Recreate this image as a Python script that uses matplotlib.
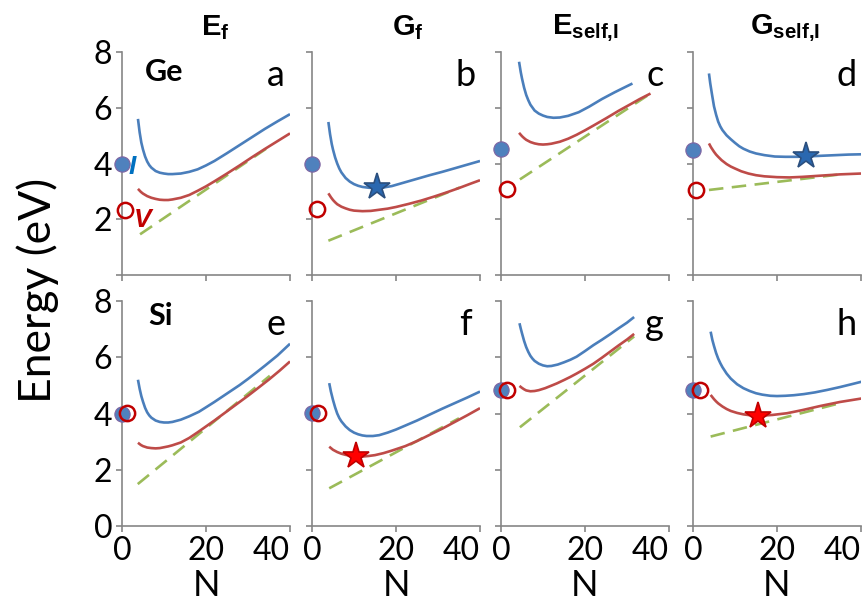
import matplotlib
matplotlib.use("Agg")
import matplotlib.pyplot as plt

plt.rcParams['font.family'] = ['Lato', 'DejaVu Sans']
plt.rcParams['mathtext.fontset'] = 'custom'
plt.rcParams['mathtext.rm'] = 'Liberation Sans'
plt.rcParams['mathtext.bf'] = 'Liberation Sans:bold'

# ---------------- data ----------------
col_titles = [r'$\mathbf{E}_{\mathbf{f}}$', r'$\mathbf{G}_{\mathbf{f}}$',
              r'$\mathbf{E}_{\mathbf{self{,}I}}$', r'$\mathbf{G}_{\mathbf{self{,}I}}$']
panel_letters = ['a', 'b', 'c', 'd', 'e', 'f', 'g', 'h']
row_materials = ['Ge', 'Si']
x_ticks = [0, 20, 40]
x_tick_labels = ['0', '20', '40']
y_ticks = [0, 2, 4, 6, 8]

# interstitial (blue) curves
blue_N = [
    [3.8, 4.2, 4.6, 5, 5.5, 6, 6.5, 7, 8, 9, 10, 11, 12, 14, 16, 18, 20, 22, 25, 28, 31, 34, 37, 40],
    [3.9, 4.3, 4.7, 5, 5.5, 6, 6.5, 7, 8, 9, 10, 11, 12, 13.5, 15, 17, 19, 22, 25, 28, 31, 34, 37, 40],
    [4.3, 4.7, 5, 5.5, 6, 6.5, 7, 8, 9, 10, 11, 12.5, 14, 16, 18.5, 21, 24, 27, 29, 31.3],
    [3.8, 4.1, 4.5, 5, 5.5, 6, 6.5, 7, 8, 9, 10, 11, 12, 13.5, 15, 17, 19.5, 22, 25, 28, 31, 34, 37, 40],
    [3.8, 4.2, 4.6, 5, 5.5, 6, 6.5, 7, 8, 9, 10, 11, 12, 14, 16, 18.3, 20, 22, 24, 26.2, 28, 30, 32, 34.2, 37, 40],
    [4.1, 4.5, 5, 5.5, 6, 6.5, 7, 8, 9, 10, 11, 12, 13, 14.5, 16, 18, 20, 22.2, 25, 28, 31, 34, 37, 40],
    [4.4, 4.7, 5, 5.5, 6, 6.5, 7, 7.5, 8, 9, 10, 11, 12, 13.5, 15, 16.5, 18, 20, 22, 24, 26, 28, 30, 31.7],
    [4.2, 4.6, 5, 5.5, 6, 6.5, 7, 8, 9, 10.5, 12, 13.5, 15, 16.5, 18.4, 20, 22, 24, 26.4, 29, 32, 35, 38, 40.4],
]
blue_E = [
    [5.60, 5.12, 4.75, 4.50, 4.25, 4.07, 3.94, 3.85, 3.73, 3.67, 3.64, 3.62, 3.62, 3.64, 3.70, 3.79, 3.93, 4.09, 4.37, 4.66, 4.95, 5.24, 5.51, 5.77],
    [5.49, 5.05, 4.70, 4.50, 4.22, 4.00, 3.82, 3.68, 3.48, 3.35, 3.26, 3.20, 3.16, 3.13, 3.12, 3.14, 3.19, 3.32, 3.45, 3.58, 3.70, 3.83, 3.96, 4.09],
    [7.65, 7.28, 7.05, 6.72, 6.46, 6.27, 6.11, 5.90, 5.79, 5.72, 5.67, 5.64, 5.65, 5.71, 5.84, 6.04, 6.31, 6.55, 6.70, 6.87],
    [7.23, 6.88, 6.50, 6.05, 5.75, 5.50, 5.33, 5.20, 5.01, 4.87, 4.74, 4.62, 4.53, 4.43, 4.36, 4.30, 4.25, 4.24, 4.24, 4.26, 4.28, 4.30, 4.32, 4.33],
    [5.20, 4.88, 4.62, 4.42, 4.20, 4.04, 3.93, 3.85, 3.75, 3.70, 3.68, 3.68, 3.70, 3.78, 3.90, 4.06, 4.22, 4.41, 4.61, 4.83, 5.01, 5.23, 5.46, 5.72, 6.06, 6.48],
    [5.08, 4.78, 4.48, 4.22, 4.00, 3.84, 3.72, 3.54, 3.41, 3.32, 3.26, 3.22, 3.20, 3.20, 3.23, 3.32, 3.43, 3.57, 3.75, 3.96, 4.17, 4.37, 4.57, 4.78],
    [7.21, 7.02, 6.85, 6.58, 6.36, 6.19, 6.05, 5.95, 5.87, 5.77, 5.71, 5.68, 5.69, 5.74, 5.82, 5.91, 6.02, 6.22, 6.43, 6.62, 6.82, 7.03, 7.23, 7.43],
    [6.91, 6.62, 6.40, 6.15, 5.95, 5.79, 5.65, 5.42, 5.24, 5.04, 4.90, 4.80, 4.72, 4.67, 4.63, 4.62, 4.63, 4.65, 4.69, 4.75, 4.84, 4.94, 5.05, 5.14],
]
# vacancy (red) curves
red_N = [
    [3.8, 4.5, 5, 6, 7, 8, 9, 10, 11, 12, 14, 16, 18, 20, 22, 25, 28, 31, 34, 37, 40],
    [3.9, 4.5, 5, 5.5, 6, 7, 8, 9, 10, 11, 12, 14, 16, 18, 20, 23, 26, 29, 32, 35, 38, 40],
    [4.3, 5, 5.5, 6, 7, 8, 9, 10, 11, 12, 14, 16, 18, 20, 22, 25, 28, 31, 33, 35.6],
    [3.8, 4.3, 5, 5.5, 6, 6.8, 8, 9, 10, 11.5, 13.2, 15, 17, 20, 23, 26, 30, 35, 40],
    [3.8, 4.5, 5, 6, 7, 8, 9, 10, 11, 12, 14, 16, 18, 20, 22, 24, 26, 28, 30, 32, 35, 37.5, 40],
    [4.1, 5, 6, 7, 8, 9, 10, 11, 12, 13.5, 15, 17, 19, 22.2, 25, 28, 31, 34, 37, 40],
    [4.4, 5, 5.5, 6, 7, 8, 9, 10.5, 12, 13.3, 15, 16.5, 18, 20, 22, 24, 26, 28, 30, 31.7],
    [4.2, 5, 5.5, 6, 7, 8, 9, 10.5, 12, 13.5, 15.4, 17, 19, 22.4, 26, 30.4, 35, 40.4],
]
red_E = [
    [3.09, 2.98, 2.92, 2.83, 2.77, 2.73, 2.70, 2.69, 2.69, 2.71, 2.77, 2.87, 3.02, 3.18, 3.36, 3.64, 3.93, 4.23, 4.52, 4.80, 5.08],
    [2.93, 2.79, 2.69, 2.61, 2.54, 2.45, 2.39, 2.34, 2.31, 2.30, 2.29, 2.30, 2.34, 2.38, 2.44, 2.55, 2.67, 2.81, 2.96, 3.12, 3.29, 3.40],
    [5.10, 4.98, 4.91, 4.85, 4.77, 4.72, 4.69, 4.68, 4.69, 4.71, 4.78, 4.89, 5.03, 5.19, 5.36, 5.62, 5.89, 6.14, 6.31, 6.51],
    [4.72, 4.58, 4.42, 4.32, 4.24, 4.12, 3.98, 3.89, 3.82, 3.72, 3.64, 3.58, 3.54, 3.51, 3.50, 3.52, 3.56, 3.61, 3.64],
    [2.96, 2.88, 2.84, 2.79, 2.77, 2.76, 2.77, 2.80, 2.83, 2.87, 2.97, 3.13, 3.33, 3.54, 3.75, 3.97, 4.19, 4.41, 4.63, 4.86, 5.21, 5.52, 5.85],
    [2.82, 2.71, 2.63, 2.57, 2.53, 2.50, 2.48, 2.47, 2.47, 2.49, 2.52, 2.59, 2.68, 2.84, 3.02, 3.24, 3.46, 3.70, 3.94, 4.19],
    [4.98, 4.91, 4.86, 4.82, 4.79, 4.80, 4.83, 4.90, 4.99, 5.07, 5.19, 5.30, 5.42, 5.59, 5.77, 5.98, 6.20, 6.42, 6.63, 6.83],
    [4.66, 4.51, 4.43, 4.36, 4.25, 4.16, 4.09, 4.02, 3.97, 3.94, 3.93, 3.93, 3.95, 4.01, 4.12, 4.27, 4.41, 4.54],
]
# linear (green dashed) asymptotes: start/end points
green_N = [[4.3, 35.2], [3.9, 35.2], [4.5, 35.6], [3.8, 35.1],
           [3.75, 35.2], [4.1, 35.0], [4.5, 31.7], [4.2, 35.6]]
green_E = [[1.46, 4.62], [1.23, 3.14], [3.43, 6.51], [3.05, 3.61],
           [1.49, 5.34], [1.34, 3.83], [3.51, 6.74], [3.18, 4.39]]
# isolated point defects at N = 0
dot_E = [3.97, 3.98, 4.52, 4.50, 3.99, 4.01, 4.84, 4.84]
circle_N = [0.7, 1.1, 1.4, 0.6, 1.1, 1.4, 1.4, 1.7]
circle_E = [2.33, 2.35, 3.07, 3.05, 4.01, 4.01, 4.84, 4.84]
# stars
star_panel = [1, 3, 5, 7]
star_N = [15.5, 26.9, 10.5, 15.4]
star_E = [3.14, 4.27, 2.50, 3.91]
star_kind = ['I', 'I', 'V', 'V']

BLUE = '#4a7ebb'
RED = '#be4b48'
GREEN = '#9bbb59'
AXC = '#868686'

fig = plt.figure(figsize=(8.67, 6.16), dpi=100)
W, H = 867.0, 616.0
lefts = [122, 312, 501, 693]
pw = 168
rows = [(52, 275), (301, 526)]

axes = []
for r in range(2):
    for c in range(4):
        top, bot = rows[r]
        ax = fig.add_axes([lefts[c] / W, 1 - bot / H, pw / W, (bot - top) / H])
        axes.append(ax)

for i, ax in enumerate(axes):
    r, c = divmod(i, 4)
    ax.set_xlim(0, 40)
    ax.set_ylim(0, 8)
    for s in ['top', 'right']:
        ax.spines[s].set_visible(False)
    for s in ['left', 'bottom']:
        ax.spines[s].set_color(AXC)
        ax.spines[s].set_linewidth(1.2)
    ax.tick_params(colors=AXC, length=4, width=1.2, direction='out',
                   labelcolor='black', labelsize=23)
    ax.set_xticks(x_ticks)
    ax.set_yticks(y_ticks)
    if c == 0:
        labs = [str(v) for v in y_ticks]
        if r == 0:
            labs[0] = ''
        ax.set_yticklabels(labs)
    else:
        ax.set_yticklabels([])
    if r == 1:
        ax.set_xticklabels(x_tick_labels)
        for lab in ax.get_xticklabels():
            if lab.get_text() == x_tick_labels[-1]:
                lab.set_ha('right')
                lab.set_x(41.0)
        ax.set_xlabel('N', fontsize=26, labelpad=2)
    else:
        ax.set_xticklabels([])
    ax.tick_params(axis='x', pad=3)
    ax.tick_params(axis='y', pad=3)

    ax.plot(green_N[i], green_E[i], color=GREEN, lw=1.9, dashes=(5.5, 3.2), zorder=2)
    ax.plot(red_N[i], red_E[i], color=RED, lw=1.9, zorder=3, solid_capstyle='butt',
            solid_joinstyle='round')
    ax.plot(blue_N[i], blue_E[i], color=BLUE, lw=1.9, zorder=4, solid_capstyle='butt',
            solid_joinstyle='round')
    ax.plot([0], [dot_E[i]], 'o', ms=11, mfc='#4f81bd', mec='#8064a2', mew=0.8,
            clip_on=False, zorder=5)
    ax.plot([circle_N[i]], [circle_E[i]], 'o', ms=11, mfc='none', mec='#c00000',
            mew=1.8, clip_on=False, zorder=6)
    ax.text(0.915, 0.895, panel_letters[i], transform=ax.transAxes, fontsize=26,
            ha='center', va='center')

for k, p in enumerate(star_panel):
    ax = axes[p]
    if star_kind[k] == 'I':
        ax.plot([star_N[k]], [star_E[k]], marker='*', ms=20, mfc='#2a68b0',
                mec='#2b4f7e', mew=1.2, zorder=7)
    else:
        ax.plot([star_N[k]], [star_E[k]], marker='*', ms=20, mfc='#ff0000',
                mec='#c00000', mew=1.2, zorder=7)

# material labels
axes[0].text(10, 7.3, row_materials[0], fontsize=22, fontweight='bold', ha='center', va='center')
axes[4].text(9.3, 7.45, row_materials[1], fontsize=22, fontweight='bold', ha='center', va='center')
# I / V labels
axes[0].text(2.4, 3.87, 'I', color='#0070c0', fontsize=19, fontweight='bold',
             style='italic', ha='center', va='center', family=['Liberation Sans'])
axes[0].text(4.8, 1.97, 'V', color='#c00000', fontsize=19, fontweight='bold',
             style='italic', ha='center', va='center', family=['Liberation Sans'])

# column titles
title_x = [215, 408, 585, 785]
for c in range(4):
    fig.text(title_x[c] / W, 1 - 28 / H, col_titles[c], fontsize=21,
             ha='center', va='center')

fig.text(38 / W, 1 - 290 / H, 'Energy (eV)', fontsize=32, rotation=90,
         ha='center', va='center')

fig.savefig('out.png', dpi=100)
